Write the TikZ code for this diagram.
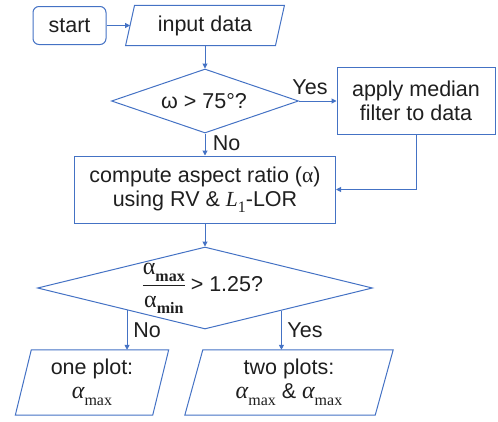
\documentclass[tikz,border=0pt]{standalone}
\usepackage{amsmath}
\usepackage[no-math]{fontspec}
\setmainfont{Liberation Sans}
\newfontfamily\serifgr{Liberation Serif}
\usetikzlibrary{shapes.geometric,arrows.meta,calc}
\definecolor{lineblue}{HTML}{4472C4}
\definecolor{txt}{HTML}{1F1F1F}
\newcommand{\subsc}[1]{\raisebox{-0.3em}{\serifgr\fontsize{16}{16}\selectfont #1}}
\newcommand{\bigal}[1]{{\serifgr\fontsize{24}{24}\selectfont #1}}
\newcommand{\amaxit}{\bigal{\itshape α}\subsc{max}}
\newcommand{\aup}[1]{\bigal{α}\subsc{\bfseries #1}}
\tikzset{
  base/.style={font=\fontsize{21.5}{24}\selectfont, text=txt, align=center, inner sep=0pt},
  boxnode/.style={base, draw=lineblue, line width=1pt, rectangle},
  startnode/.style={boxnode, rounded corners=6pt},
  ionode/.style={base, rectangle},
  decision/.style={base, draw=lineblue, line width=1pt, diamond},
  arr/.style={draw=lineblue, line width=1pt, -{Triangle[length=5pt,width=5pt]}},
  lbl/.style={base},
  para/.style={draw=lineblue, line width=1pt},
}
\newcommand{\paral}[2]{%
  \draw[para] ([xshift=#2]#1.north west) -- ([xshift=#2]#1.north east)
    -- ([xshift=-#2]#1.south east) -- ([xshift=-#2]#1.south west) -- cycle;}
\begin{document}
\begin{tikzpicture}[x=1pt,y=-1pt]
\useasboundingbox (0,0) rectangle (498,421);
% nodes
\node[startnode, minimum width=73pt, minimum height=38pt] (start) at (69.5,25.5) {start};
\node[ionode, minimum width=149.5pt, minimum height=40pt] (input) at (205,25.5) {input data};
\paral{input}{4.5pt}
\node[decision, aspect=2.9, minimum width=187pt, minimum height=64pt] (d1) at (205,101) {};
\node[base] (d1t) at (204,101) {ω > 75°?};
\node[boxnode, minimum width=158pt, minimum height=67pt] (med) at (416,101) {apply median\\filter to data};
\node[boxnode, minimum width=261pt, minimum height=67pt] (comp) at (205,189.5) {compute aspect ratio ({\serifgr α})\\using RV \& {\serifgr\itshape L}\subsc{1}-LOR};
\node[decision, aspect=4, minimum width=335pt, minimum height=82pt] (d2) at (205,288) {};
\node[base] (d2t) at (203,286) {\setlength{\arrayrulewidth}{1pt}\renewcommand{\arraystretch}{1.05}\begin{tabular}[c]{@{}c@{}}\aup{max}\\[3pt]\hline\rule{0pt}{21pt}\aup{min}\end{tabular} > 1.25?};
\node[ionode, minimum width=137pt, minimum height=65pt] (one) at (92,382.5) {one plot:\\\amaxit};
\paral{one}{8pt}
\node[ionode, minimum width=190pt, minimum height=65pt] (two) at (289,382.5) {two plots:\\\amaxit{} \& \amaxit};
\paral{two}{9pt}
% labels
\node[lbl] (yes1) at (310,87) {Yes};
\node[lbl] (no1) at (226.5,143) {No};
\node[lbl] (no2) at (147,330.5) {No};
\node[lbl] (yes2) at (305,330.5) {Yes};
% connectors
\draw[arr] (start.east) -- (input.west);
\draw[arr] (input.south) -- (d1.north);
\draw[arr] (d1.east) -- (med.west);
\draw[arr] (d1.south) -- (comp.north);
\draw[arr] (med.south) |- (comp.east);
\draw[arr] (comp.south) -- (d2.north);
\coordinate (pno) at ($(d2.west)!0.536!(d2.south)$);
\coordinate (pyes) at ($(d2.east)!0.545!(d2.south)$);
\draw[arr] (pno) -- (pno |- one.north);
\draw[arr] (pyes) -- (pyes |- two.north);
\end{tikzpicture}
\end{document}
